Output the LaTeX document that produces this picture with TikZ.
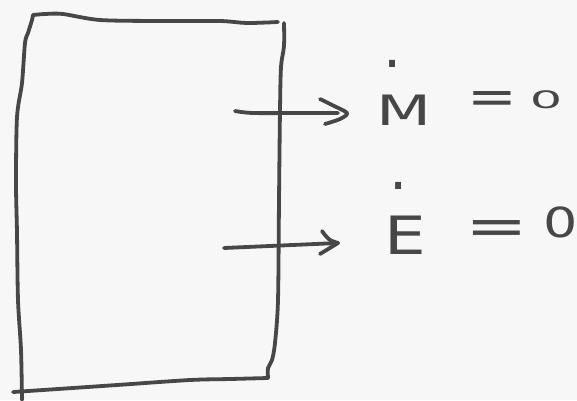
\documentclass[tikz,border=0pt]{standalone}
\usepackage{fontspec}
\setmainfont{DejaVu Sans}
\definecolor{ink}{HTML}{474747}
\definecolor{paper}{HTML}{F7F7F7}
\tikzset{
  pen/.style={draw=ink, line width=3.8pt, line cap=round, line join=round},
  lbl/.style={text=ink, inner sep=0pt, font=\fontsize{44}{44}\selectfont}
}
\newcommand{\dotted}[3]{\ooalign{#1\cr\hidewidth\raisebox{#2}{\scalebox{1.3}{.}}\kern#3\hidewidth\cr}}
\begin{document}
\begin{tikzpicture}[x=1pt,y=-1pt]
\fill[paper] (0,0) rectangle (577,400);
\useasboundingbox (0,0) rectangle (577,400);
% box
\draw[pen] plot[smooth,tension=0.5] coordinates {(33,15) (45,14) (63,14) (100,20) (160,21) (220,21) (247,23) (278,22)};
\draw[pen] plot[smooth,tension=0.5] coordinates {(284,23) (284,46) (281,67) (280,110) (279,200) (278,300) (275,343) (272,360) (268,368) (268,378)};
\draw[pen] plot[smooth,tension=0.5] coordinates {(268,378) (230,379) (190,380) (117,385) (43,390) (13,392)};
\draw[pen] plot[smooth,tension=0.5] coordinates {(33,15) (32,20) (28,33) (25,43) (22,83) (17,117) (16,183) (17,233) (18,300) (21,350) (22,400)};
% labels
\node[lbl, anchor=base] (m) at (404,125) {\dotted{\scalebox{1.45}[0.95]{M}}{58pt}{22pt}};
\node[lbl] (meq) at (492,103) {\scalebox{1.35}[1.1]{=}};
\node[lbl, font=\fontsize{30}{30}\selectfont] (m0) at (546,100) {\scalebox{1.7}[0.8]{0}};
\node[lbl, anchor=base] (e) at (405,254) {\dotted{\scalebox{1.5}[1.2]{E}}{65pt}{12pt}};
\node[lbl] (eeq) at (497,233) {\scalebox{1.7}[1.2]{=}};
\node[lbl, font=\fontsize{36}{36}\selectfont] (e0) at (561,222) {\scalebox{1.5}[1.15]{0}};
% arrows
\draw[pen] plot[smooth,tension=0.5] coordinates {(235,111) (253,113) (300,113) (338,113)};
\draw[pen] plot[smooth,tension=0.5] coordinates {(320,99) (332,105) (347,113) (340,119) (325,124)};
\draw[pen] (224,248) -- (338,243);
\draw[pen] plot[smooth,tension=0.5] coordinates {(322,231) (325,235) (330,240) (338,243)};
\draw[pen] (338,243) -- (320,254);
\end{tikzpicture}
\end{document}
